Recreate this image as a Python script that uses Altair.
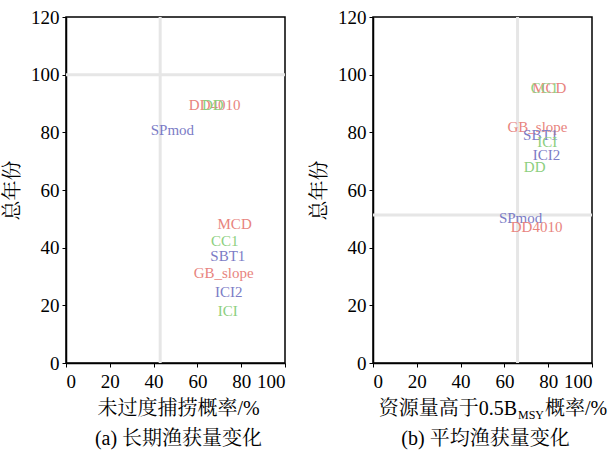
import altair as alt
import pandas as pd

labels_a = ["DD4010", "DD", "SPmod", "MCD", "CC1", "SBT1", "GB_slope", "ICI2", "ICI"]
x_a = [67.9, 67.0, 48.6, 77.0, 72.5, 73.9, 72.0, 74.3, 73.9]
y_a = [89.5, 89.5, 80.8, 48.2, 42.3, 37.1, 31.2, 24.6, 18.0]
grp_a = ["r", "g", "b", "r", "g", "b", "r", "b", "g"]

labels_b = ["MCD", "CC1", "GB_slope", "SBT1", "ICI", "ICI2", "DD", "SPmod", "DD4010"]
x_b = [80.5, 78.3, 75.1, 76.5, 79.6, 79.2, 73.8, 67.4, 74.7]
y_b = [95.4, 95.4, 81.9, 79.0, 76.7, 72.1, 68.0, 50.3, 47.2]
grp_b = ["r", "g", "r", "b", "g", "b", "g", "b", "r"]

ref_a = {"vx": 43, "hy": 100}
ref_b = {"vx": 66, "hy": 51.3}

FONT = "Liberation Serif, Noto Serif CJK SC, Noto Sans CJK SC"
W, H = 219, 346

color_scale = alt.Scale(domain=["r", "g", "b"], range=["#e8847e", "#8ccf7e", "#7c7cc6"])


def panel(labels, xs, ys, grps, ref, caption, xtitle_parts):
    df = pd.DataFrame({"label": labels, "x": xs, "y": ys, "g": grps})
    xsc = alt.Scale(domain=[0, 100], nice=False)
    ysc = alt.Scale(domain=[0, 120], nice=False)
    xax = alt.Axis(values=[0, 20, 40, 60, 80, 100], title=None, grid=False,
                   labelFontSize=19, labelFont=FONT, labelColor="black",
                   domainColor="black", tickColor="black", tickSize=4, labelPadding=5)
    yax = alt.Axis(values=[0, 20, 40, 60, 80, 100, 120], title="总年份", grid=False,
                   labelFontSize=19, labelFont=FONT, labelColor="black",
                   titleFont=FONT, titleFontSize=20, titleFontWeight="normal",
                   titleColor="black", titlePadding=8,
                   domainColor="black", tickColor="black", tickSize=4, labelPadding=3)
    vdf = pd.DataFrame({"v": [ref["vx"]]})
    hdf = pd.DataFrame({"h": [ref["hy"]]})
    vline = alt.Chart(vdf).mark_rule(color="#e6e6e6", strokeWidth=3).encode(
        x=alt.X("v:Q", scale=xsc, axis=xax))
    hline = alt.Chart(hdf).mark_rule(color="#e6e6e6", strokeWidth=3).encode(
        y=alt.Y("h:Q", scale=ysc, axis=yax))
    text = alt.Chart(df).mark_text(fontSize=15, font=FONT, baseline="middle").encode(
        x=alt.X("x:Q", scale=xsc, axis=xax),
        y=alt.Y("y:Q", scale=ysc, axis=yax),
        text="label:N",
        color=alt.Color("g:N", scale=color_scale, legend=None),
    )
    layers = [vline, hline, text]
    one = pd.DataFrame({"d": [0]})
    for (t, xpos, ypos, align, size) in xtitle_parts:
        layers.append(alt.Chart(one).mark_text(
            text=t, font=FONT, fontSize=size, align=align, baseline="middle",
            color="black").encode(x=alt.value(xpos), y=alt.value(ypos)))
    layers.append(alt.Chart(one).mark_text(
        text=caption, font=FONT, fontSize=20, align="center", baseline="middle",
        color="black").encode(x=alt.value(W / 2 + 3), y=alt.value(422)))
    return alt.layer(*layers).properties(width=W, height=H)


pa = panel(labels_a, x_a, y_a, grp_a, ref_a, "(a) 长期渔获量变化",
           [("未过度捕捞概率/%", W / 2 + 3, 392, "center", 20)])
pb = panel(labels_b, x_b, y_b, grp_b, ref_b, "(b) 平均渔获量变化",
           [("资源量高于0.5B", 144, 392, "right", 20),
            ("MSY", 145, 398, "left", 12),
            ("概率/%", 172, 392, "left", 20)])

chart = alt.hconcat(pa, pb, spacing=20).properties(
    padding={"left": 1, "top": 7, "right": 2, "bottom": 2}
).configure_view(stroke="black", strokeWidth=1.5).configure_axis(domainWidth=1.5)

chart.save("out.html", embed_options={"renderer": "svg", "actions": False})
